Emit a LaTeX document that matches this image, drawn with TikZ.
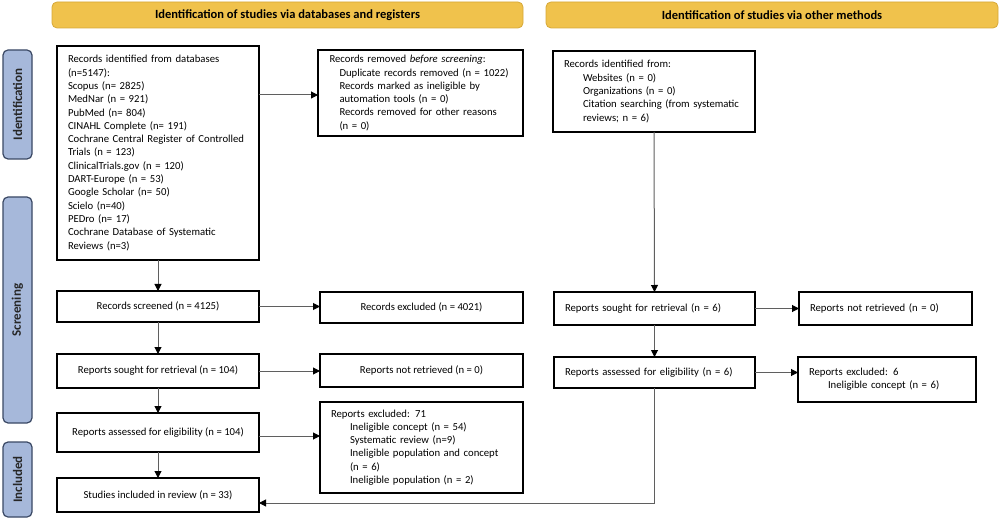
\documentclass[tikz,border=0pt]{standalone}
\usepackage{fontspec}
\setmainfont{Carlito}
\usetikzlibrary{arrows.meta}
\definecolor{hdrfill}{RGB}{240,194,76}
\definecolor{hdrdraw}{RGB}{214,168,56}
\definecolor{tabfill}{RGB}{166,184,218}
\definecolor{tabdraw}{RGB}{58,72,100}
\definecolor{linegray}{RGB}{95,95,95}
\tikzset{
  box/.style={draw=black, line width=1.2pt, outer sep=0pt, inner ysep=2pt,
    font=\fontsize{10.7}{13.3}\selectfont},
  lbox/.style={box, align=left, inner xsep=11pt},
  cbox/.style={box, align=center},
  hdr/.style={draw=hdrdraw, fill=hdrfill, rounded corners=5pt, line width=0.8pt,
    minimum height=26pt, font=\fontsize{12.5}{14}\selectfont\bfseries},
  tab/.style={draw=tabdraw, fill=tabfill, rounded corners=5pt, line width=1.2pt,
    minimum width=29pt},
  tabtxt/.style={rotate=90, font=\fontsize{13}{15}\selectfont\bfseries, text=black!85},
  arr/.style={draw=linegray, line width=1pt,
    -{Triangle[length=7pt,width=7pt,color=black]}},
  ln/.style={draw=linegray, line width=1pt}
}
\begin{document}
\begin{tikzpicture}[x=1pt,y=-1pt]
\useasboundingbox (0,0) rectangle (1000,518);

% headers
\node[hdr, minimum width=471pt] (h1) at (287.5,15) {Identification of studies via databases and registers};
\node[hdr, minimum width=452pt] (h2) at (772,15) {Identification of studies via other methods};

% side tabs
\node[tab, minimum height=109pt] (t1) at (17.5,104.5) {};
\node[tabtxt] at (t1) {Identification};
\node[tab, minimum height=226pt] (t2) at (17.5,310) {};
\node[tabtxt] at (t2) {Screening};
\node[tab, minimum height=75pt] (t3) at (17.5,479.5) {};
\node[tabtxt] at (t3) {Included};

% left column
\node[lbox, minimum width=202pt, minimum height=214pt, text width=180pt] (id) at (158,153) {%
Records identified from databases\\
(n=5147):\\
Scopus (n= 2825)\\
MedNar (n = 921)\\
PubMed (n= 804)\\
CINAHL Complete (n= 191)\\
Cochrane Central Register of Controlled\\
Trials (n = 123)\\
ClinicalTrials.gov (n = 120)\\
DART-Europe (n = 53)\\
Google Scholar (n= 50)\\
Scielo (n=40)\\
PEDro (n= 17)\\
Cochrane Database of Systematic\\
Reviews (n=3)};

\node[lbox, minimum width=205pt, minimum height=86pt, text width=182pt, inner xsep=11.5pt] (rem) at (420.5,93) {%
Records removed \textit{before screening}:\\
\hspace*{10pt}Duplicate records removed (n = 1022)\\
\hspace*{10pt}Records marked as ineligible by\\
\hspace*{10pt}automation tools (n = 0)\\
\hspace*{10pt}Records removed for other reasons\\
\hspace*{10pt}(n = 0)};

\node[cbox, minimum width=202pt, minimum height=31pt] (scr) at (158,306.5) {Records screened (n = 4125)};
\node[cbox, minimum width=203pt, minimum height=31pt] (exc) at (421.5,307.5) {Records excluded (n = 4021)};
\node[cbox, minimum width=202pt, minimum height=34pt] (sou) at (158,371) {Reports sought for retrieval (n = 104)};
\node[cbox, minimum width=203pt, minimum height=33pt] (nret) at (421.5,370.5) {Reports not retrieved (n = 0)};
\node[cbox, minimum width=202pt, minimum height=39pt] (ass) at (158,432.5) {Reports assessed for eligibility (n = 104)};
\node[lbox, minimum width=203pt, minimum height=91pt, text width=181pt] (ex71) at (421.5,447.5) {%
Reports excluded: 71\\
\hspace*{19pt}Ineligible concept (n = 54)\\
\hspace*{19pt}Systematic review (n=9)\\
\hspace*{19pt}Ineligible population and concept\\
\hspace*{19pt}(n = 6)\\
\hspace*{19pt}Ineligible population (n = 2)};
\node[cbox, minimum width=202pt, minimum height=34pt] (inc) at (158,495) {Studies included in review (n = 33)};

% right column
\node[lbox, minimum width=202pt, minimum height=81pt, text width=180pt] (oid) at (654,91.5) {%
Records identified from:\\
\hspace*{19pt}Websites (n = 0)\\
\hspace*{19pt}Organizations (n = 0)\\
\hspace*{19pt}Citation searching (from systematic\\
\hspace*{19pt}reviews; n = 6)};
\node[lbox, minimum width=201pt, minimum height=33pt, text width=179pt] (osou) at (654.5,308.5) {Reports sought for retrieval (n = 6)};
\node[lbox, minimum width=173pt, minimum height=33pt, text width=151pt] (onret) at (885.5,308.5) {Reports not retrieved (n = 0)};
\node[lbox, minimum width=201pt, minimum height=31pt, text width=179pt] (oass) at (654.5,372.5) {Reports assessed for eligibility (n = 6)};
\node[lbox, minimum width=178pt, minimum height=45pt, text width=156pt] (oex) at (887,379.5) {%
Reports excluded: 6\\
\hspace*{19pt}Ineligible concept (n = 6)};

% connectors left
\draw[arr] (id.east |- 0,95) -- (rem.west |- 0,95);
\draw[arr] (id.south) -- (scr.north);
\draw[arr] (scr.east) -- (exc.west |- scr.east);
\draw[arr] (scr.south) -- (sou.north);
\draw[arr] (sou.east) -- (nret.west |- sou.east);
\draw[arr] (sou.south) -- (ass.north);
\draw[arr] (ass.east |- 0,436) -- (ex71.west |- 0,436);
\draw[arr] (ass.south) -- (inc.north);

% connectors right
\draw[arr] (oid.south) -- (osou.north);
\draw[arr] (osou.east) -- (onret.west |- osou.east);
\draw[arr] (osou.south) -- (oass.north);
\draw[arr] (oass.east) -- (oex.west |- oass.east);
\coordinate (corner) at (654.5,503);
\draw[arr] (oass.south) -- (corner) -- (inc.east |- corner);
\end{tikzpicture}
\end{document}
